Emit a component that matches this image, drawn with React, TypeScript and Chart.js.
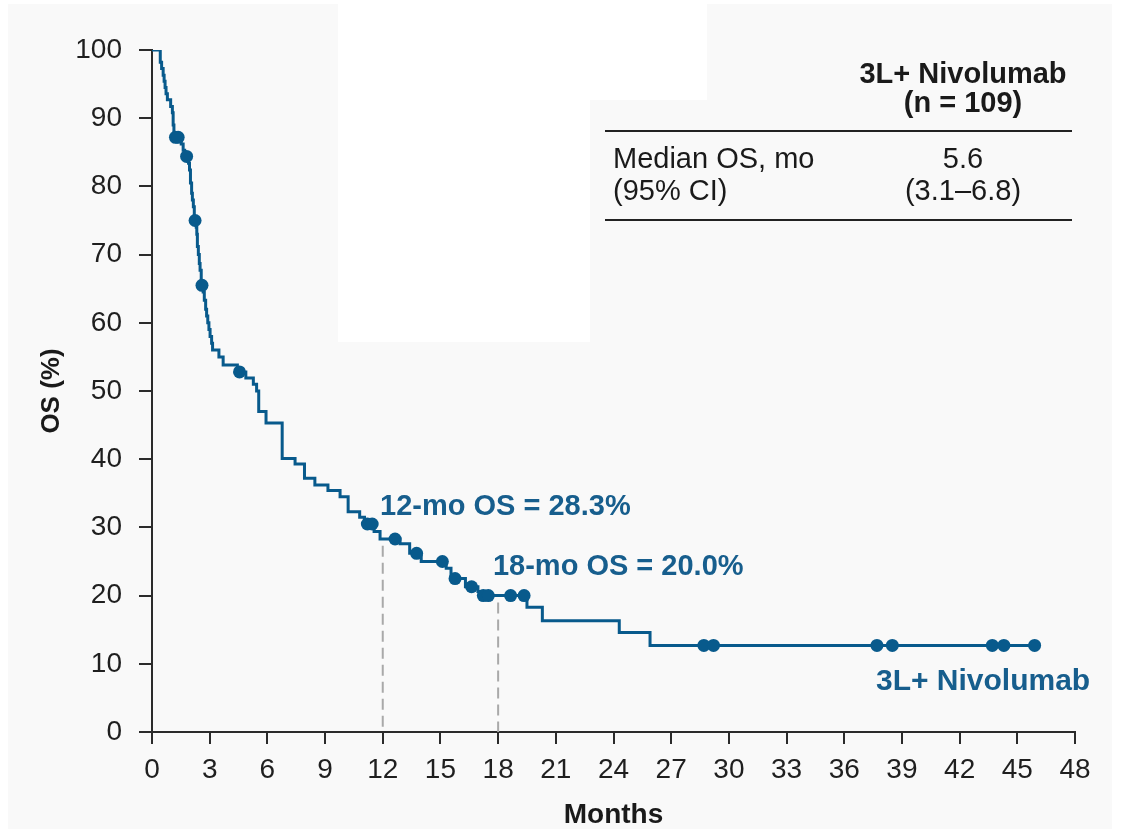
import React, { useEffect, useRef } from "react";
import { Chart, registerables } from "chart.js";

Chart.register(...registerables);

// Kaplan–Meier step curve: month of each drop and survival level after it
const kmMonths = [0, 0.43, 0.5, 0.58, 0.63, 0.68, 0.73, 0.8, 0.97, 1.06, 1.1, 1.14, 1.52, 1.62, 1.7, 1.9, 1.95, 2.0, 2.06, 2.1, 2.15, 2.2, 2.3, 2.33, 2.36, 2.41, 2.46, 2.5, 2.56, 2.66, 2.72, 2.79, 2.84, 2.9, 2.96, 3.02, 3.1, 3.15, 3.48, 3.7, 4.44, 4.88, 5.27, 5.44, 5.55, 5.93, 6.77, 7.44, 7.93, 8.47, 9.15, 9.78, 10.2, 10.8, 11.05, 11.55, 11.86, 12.9, 13.4, 14.0, 15.3, 15.55, 16.3, 16.95, 17.1, 19.5, 20.3, 24.3, 25.9, 45.9];
const kmSurvival = [100, 98.2, 97.3, 96.3, 95.4, 94.5, 93.6, 92.7, 91.7, 90.8, 89.0, 87.2, 86.2, 85.3, 84.4, 83.4, 82.4, 80.5, 79.0, 78.0, 77.0, 75.0, 74.0, 73.0, 71.2, 70.0, 68.7, 67.7, 65.5, 64.5, 63.3, 62.0, 61.0, 60.0, 59.0, 58.0, 57.0, 56.0, 55.0, 53.8, 52.8, 51.9, 51.0, 50.0, 47.0, 45.3, 40.1, 39.3, 37.2, 36.2, 35.4, 34.5, 32.3, 31.5, 30.5, 29.4, 28.3, 27.6, 26.2, 25.0, 24.0, 22.5, 21.3, 20.6, 20.0, 18.3, 16.3, 14.6, 12.7, 12.7];

// Censored observations
const censorMonths = [1.22, 1.36, 1.8, 2.24, 2.6, 4.55, 11.2, 11.45, 12.64, 13.76, 15.1, 15.76, 16.62, 17.23, 17.49, 18.65, 19.35, 28.7, 29.2, 37.7, 38.5, 43.7, 44.3, 45.9];
const censorSurvival = [87.2, 87.2, 84.4, 75.0, 65.5, 52.8, 30.5, 30.5, 28.3, 26.2, 25.0, 22.5, 21.3, 20.0, 20.0, 20.0, 20.0, 12.7, 12.7, 12.7, 12.7, 12.7, 12.7, 12.7];

// Landmark estimates
const milestoneMonths = [12, 18];
const milestoneSurvival = [28.3, 20.0];
const milestoneLabels = ["12-mo OS = 28.3%", "18-mo OS = 20.0%"];

// Axis ticks
const xTicks = [0, 3, 6, 9, 12, 15, 18, 21, 24, 27, 30, 33, 36, 39, 42, 45, 48];
const yTicks = [0, 10, 20, 30, 40, 50, 60, 70, 80, 90, 100];

// Table texts
const tableHeader = ["3L+ Nivolumab", "(n = 109)"];
const tableRowLabels = ["Median OS, mo", "(95% CI)"];
const tableRowValues = ["5.6", "(3.1–6.8)"];
const seriesName = "3L+ Nivolumab";

const BLUE = "#085a8c";
const TEXT_BLUE = "#175e8d";
const AXIS = "#2b2b2b";
const FONT = "'Liberation Sans', Arial, Helvetica, sans-serif";

// annotation anchors in data coordinates
const annotationAnchors = [
  { x: 11.86, y: 33.0 },
  { x: 17.73, y: 24.2 },
];
const seriesLabelAnchor = { x: 37.65, y: 7.3 };

export default function App() {
  const canvasRef = useRef<HTMLCanvasElement | null>(null);

  useEffect(() => {
    const canvas = canvasRef.current;
    if (!canvas) return;

    const kmData = kmMonths.map((x, i) => ({ x, y: kmSurvival[i] }));
    const censorData = censorMonths.map((x, i) => ({ x, y: censorSurvival[i] }));
    const dashedSets = milestoneMonths.map((m, i) => ({
      type: "line" as const,
      data: [
        { x: m, y: milestoneSurvival[i] - 1 },
        { x: m, y: 0 },
      ],
      borderColor: "#a9a9a9",
      borderWidth: 2,
      borderDash: [11, 6],
      pointRadius: 0,
      fill: false,
    }));

    const decorPlugin = {
      id: "decor",
      beforeDraw(chart: any) {
        const ctx = chart.ctx;
        ctx.save();
        ctx.fillStyle = "#ffffff";
        ctx.fillRect(0, 0, chart.width, chart.height);
        ctx.fillStyle = "#f9f9f9";
        ctx.fillRect(8, 4, 1104, 825);
        ctx.fillStyle = "#ffffff";
        ctx.fillRect(338, 4, 369, 96);
        ctx.fillRect(338, 100, 252, 242);
        ctx.restore();
      },
      afterDraw(chart: any) {
        const ctx = chart.ctx;
        const xs = chart.scales.x;
        const ys = chart.scales.y;
        ctx.save();

        // Table
        ctx.fillStyle = "#1a1a1a";
        ctx.textBaseline = "middle";
        ctx.textAlign = "center";
        ctx.font = `bold 29px ${FONT}`;
        ctx.fillText(tableHeader[0], 963, 75);
        ctx.fillText(tableHeader[1], 963, 104);
        ctx.font = `29px ${FONT}`;
        ctx.fillText(tableRowValues[0], 963, 160);
        ctx.fillText(tableRowValues[1], 963, 192);
        ctx.textAlign = "left";
        ctx.fillText(tableRowLabels[0], 613, 160);
        ctx.fillText(tableRowLabels[1], 613, 192);
        ctx.strokeStyle = "#222";
        ctx.lineWidth = 2;
        ctx.beginPath();
        ctx.moveTo(605, 131);
        ctx.lineTo(1072, 131);
        ctx.moveTo(605, 220);
        ctx.lineTo(1072, 220);
        ctx.stroke();

        // Annotations
        ctx.fillStyle = TEXT_BLUE;
        ctx.font = `bold 29px ${FONT}`;
        ctx.textAlign = "left";
        milestoneLabels.forEach((t, i) => {
          const a = annotationAnchors[i];
          ctx.fillText(t, xs.getPixelForValue(a.x), ys.getPixelForValue(a.y));
        });
        ctx.font = `bold 30px ${FONT}`;
        ctx.fillText(
          seriesName,
          xs.getPixelForValue(seriesLabelAnchor.x),
          ys.getPixelForValue(seriesLabelAnchor.y)
        );

        // Axis titles
        ctx.fillStyle = "#1a1a1a";
        ctx.textAlign = "center";
        ctx.font = `bold 28px ${FONT}`;
        ctx.fillText("Months", (xs.left + xs.right) / 2, 815);
        ctx.translate(52, (ys.top + ys.bottom) / 2);
        ctx.rotate(-Math.PI / 2);
        ctx.font = `bold 26px ${FONT}`;
        ctx.fillText("OS (%)", 0, 0);
        ctx.restore();
      },
    };

    const chart = new Chart(canvas, {
      type: "line",
      data: {
        datasets: [
          {
            type: "scatter" as any,
            data: censorData,
            backgroundColor: BLUE,
            borderWidth: 0,
            pointRadius: 6.5,
            pointHoverRadius: 6.5,
            showLine: false,
          } as any,
          {
            type: "line",
            data: kmData,
            borderColor: BLUE,
            borderWidth: 3,
            stepped: "before",
            pointRadius: 0,
            fill: false,
          } as any,
          ...dashedSets,
        ],
      },
      options: {
        animation: false,
        responsive: false,
        maintainAspectRatio: false,
        layout: { padding: { left: 0, right: 49, top: 50, bottom: 0 } },
        plugins: {
          legend: { display: false },
          tooltip: { enabled: false },
        },
        scales: {
          x: {
            type: "linear",
            min: 0,
            max: 48,
            afterBuildTicks: (scale: any) => {
              scale.ticks = xTicks.map((v) => ({ value: v }));
            },
            afterFit: (scale: any) => {
              scale.height = 97;
            },
            ticks: {
              autoSkip: false,
              maxRotation: 0,
              padding: 9,
              color: "#1f1f1f",
              font: { family: FONT, size: 28 },
            },
            grid: {
              drawOnChartArea: false,
              drawTicks: true,
              tickLength: 12,
              color: AXIS,
              lineWidth: 2,
            },
            border: { display: true, color: AXIS, width: 2 },
          },
          y: {
            type: "linear",
            min: 0,
            max: 100,
            afterBuildTicks: (scale: any) => {
              scale.ticks = yTicks.map((v) => ({ value: v }));
            },
            afterFit: (scale: any) => {
              scale.width = 152;
            },
            ticks: {
              autoSkip: false,
              padding: 17,
              color: "#1f1f1f",
              font: { family: FONT, size: 28 },
            },
            grid: {
              drawOnChartArea: false,
              drawTicks: true,
              tickLength: 13,
              color: AXIS,
              lineWidth: 2,
            },
            border: { display: true, color: AXIS, width: 2 },
          },
        },
      },
      plugins: [decorPlugin],
    });

    return () => {
      chart.destroy();
    };
  }, []);

  return (
    <div style={{ position: "absolute", left: 0, top: 0, width: 1124, height: 829, background: "#fff" }}>
      <canvas ref={canvasRef} width={1124} height={829} style={{ display: "block", width: 1124, height: 829 }} />
    </div>
  );
}
